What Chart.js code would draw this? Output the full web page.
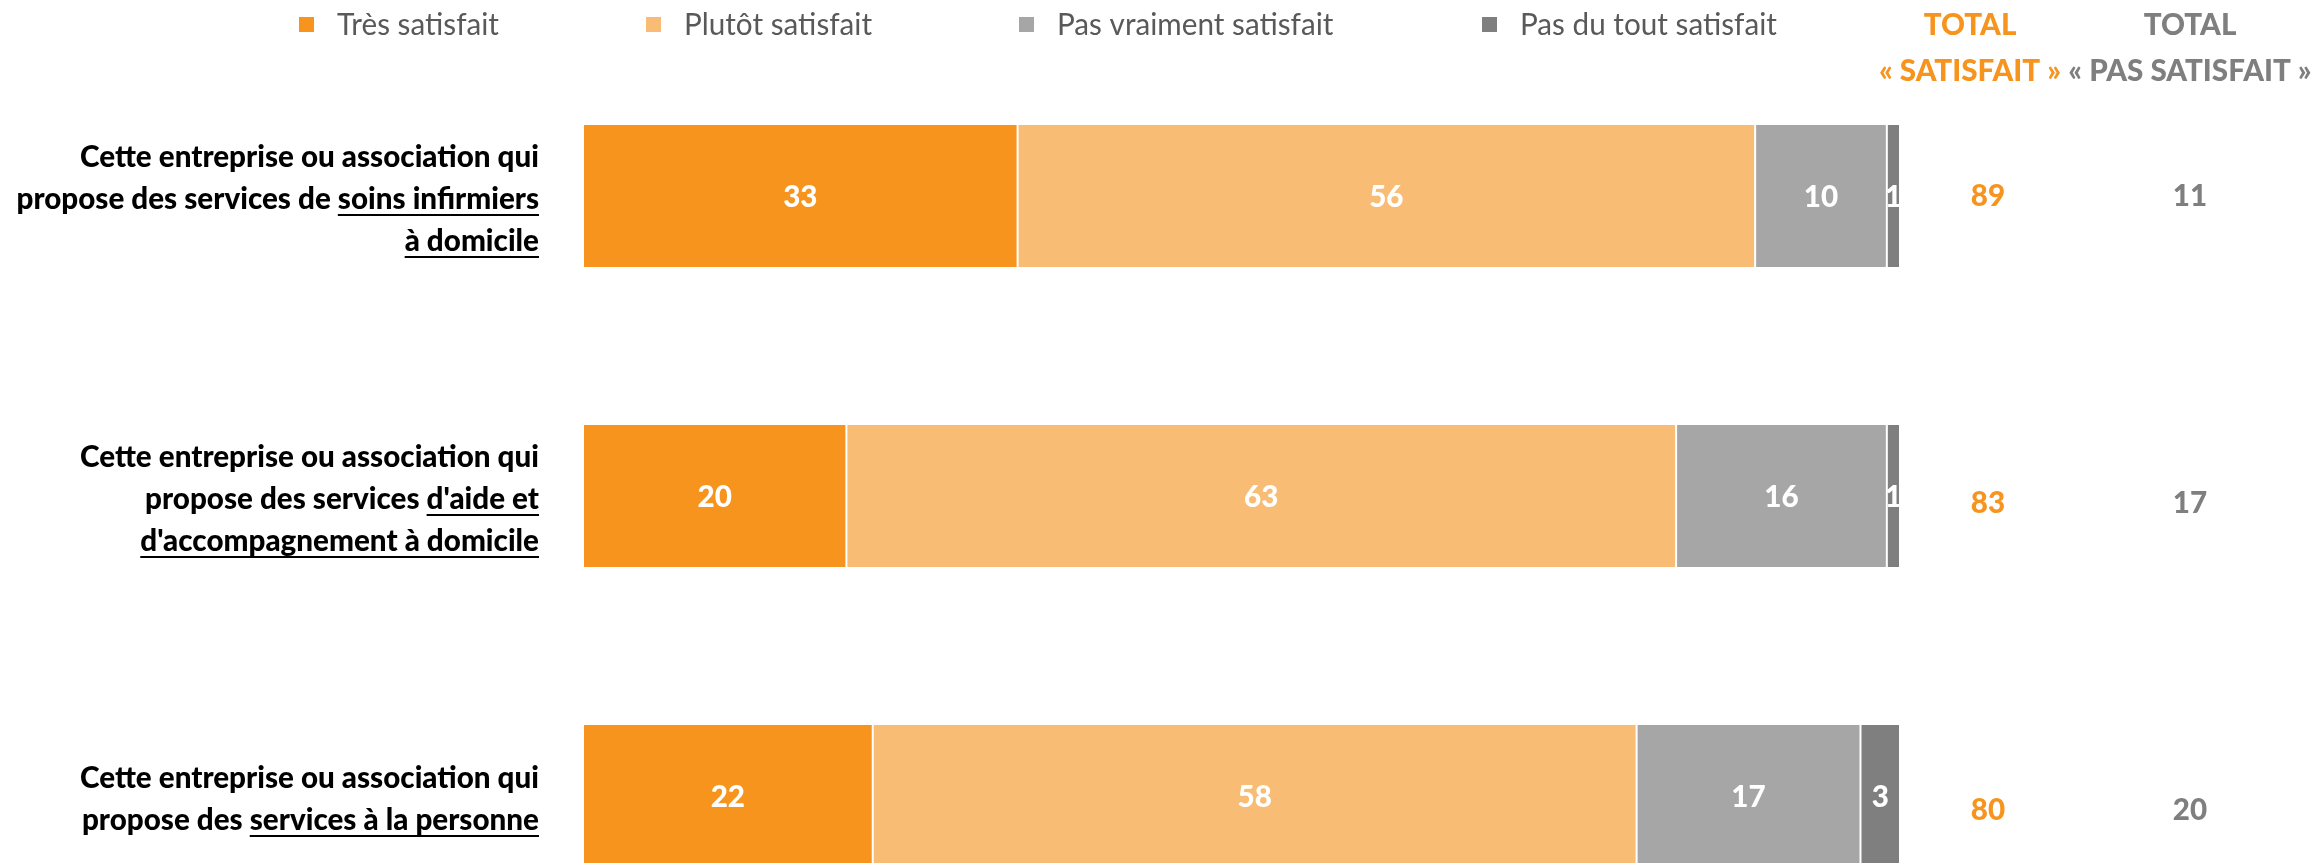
<!DOCTYPE html>
<html>
<head>
<meta charset="utf-8">
<script src="https://cdn.jsdelivr.net/npm/chart.js@4.4.0/dist/chart.umd.min.js"></script>
<style>
    html, body { margin: 0; padding: 0; background: #fff; overflow: hidden; }
    #wrap { width: 2315px; height: 960px; position: relative; }
</style>
</head>
<body>
<div id="wrap"><canvas id="satisfactionChart"></canvas></div>
<script>
// Categories: parts between underscores are underlined
const categories = [
    ['Cette entreprise ou association qui', 'propose des services de _soins infirmiers_', '_à domicile_'],
    ['Cette entreprise ou association qui', 'propose des services _d\'aide et_', '_d\'accompagnement à domicile_'],
    ['Cette entreprise ou association qui', 'propose des _services à la personne_']
];

const seriesLabels = ['Très satisfait', 'Plutôt satisfait', 'Pas vraiment satisfait', 'Pas du tout satisfait'];
const tresSatisfait = [33, 20, 22];
const plutotSatisfait = [56, 63, 58];
const pasVraiment = [10, 16, 17];
const pasDuTout = [1, 1, 3];

const totalSatisfait = [89, 83, 80];
const totalPasSatisfait = [11, 17, 20];
const totalHeaders = [['TOTAL', '« SATISFAIT »'], ['TOTAL', '« PAS SATISFAIT »']];

const colors = ['#F7941D', '#F9BC74', '#A6A6A6', '#7F7F7F'];
const orangeText = '#F7941D';
const grayText = '#7F7F7F';

const BOLD = '900 30px Lato';
const REGULAR = '30px Lato';

// draw text squeezed horizontally by sx (Calibri-like narrow look)
function drawText(ctx, text, x, y, font, color, align, sx) {
    ctx.save();
    ctx.font = font;
    ctx.fillStyle = color;
    ctx.textBaseline = 'middle';
    ctx.textAlign = 'left';
    const w = ctx.measureText(text).width * sx;
    let left = x;
    if (align === 'center') left = x - w / 2;
    if (align === 'right') left = x - w;
    ctx.translate(left, y);
    ctx.scale(sx, 1);
    ctx.fillText(text, 0, 0);
    ctx.restore();
    return w;
}

function squeeze(ctx, font, sample, target) {
    ctx.save();
    ctx.font = font;
    const w = ctx.measureText(sample).width;
    ctx.restore();
    return target / w;
}

const decorPlugin = {
    id: 'decor',
    afterDatasetsDraw(chart) {
        const ctx = chart.ctx;
        const x = chart.scales.x;
        const y = chart.scales.y;
        const sxB = squeeze(ctx, BOLD, 'Cette entreprise ou association qui', 459);
        const sxR = squeeze(ctx, REGULAR, 'Très satisfait', 162);

        // values inside the bars
        chart.data.datasets.forEach((ds, i) => {
            chart.getDatasetMeta(i).data.forEach((bar, j) => {
                const cx = (bar.x + bar.base) / 2;
                drawText(ctx, String(ds.data[j]), cx, bar.y + 1, BOLD, '#FFFFFF', 'center', sxB);
            });
        });

        // category labels on the left
        const labelRight = x.left - 44;
        const lineH = 42;
        categories.forEach((lines, j) => {
            const cy = y.getPixelForValue(j) + 3;
            lines.forEach((line, k) => {
                const ly = cy + (k - (lines.length - 1) / 2) * lineH;
                const parts = line.split('_');
                ctx.save();
                ctx.font = BOLD;
                let total = 0;
                parts.forEach(p => { total += ctx.measureText(p).width * sxB; });
                ctx.restore();
                let px = labelRight - total;
                parts.forEach((p, n) => {
                    if (!p) return;
                    const w = drawText(ctx, p, px, ly, BOLD, '#000000', 'left', sxB);
                    if (n % 2 === 1) {
                        ctx.fillStyle = '#000000';
                        ctx.fillRect(px, ly + 15, w, 2);
                    }
                    px += w;
                });
            });
        });

        // total columns
        const colSat = x.right + 88;
        const colPas = x.right + 290;
        totalSatisfait.forEach((v, j) => {
            const cy = y.getPixelForValue(j) + j * 7;
            drawText(ctx, String(v), colSat, cy, BOLD, orangeText, 'center', sxB);
            drawText(ctx, String(totalPasSatisfait[j]), colPas, cy, BOLD, grayText, 'center', sxB);
        });
        drawText(ctx, totalHeaders[0][0], x.right + 70, 25, BOLD, orangeText, 'center', sxB);
        drawText(ctx, totalHeaders[0][1], x.right + 70, 71, BOLD, orangeText, 'center', sxB);
        drawText(ctx, totalHeaders[1][0], colPas, 25, BOLD, grayText, 'center', sxB);
        drawText(ctx, totalHeaders[1][1], colPas, 71, BOLD, grayText, 'center', sxB);

        // legend
        const legendX = [337, 684, 1057, 1520];
        chart.data.datasets.forEach((ds, i) => {
            ctx.fillStyle = ds.backgroundColor;
            ctx.fillRect(legendX[i] - 38, 17, 15, 15);
            drawText(ctx, ds.label, legendX[i], 25, REGULAR, '#595959', 'left', sxR);
        });
    }
};

const seriesValues = [tresSatisfait, plutotSatisfait, pasVraiment, pasDuTout];

const ctx = document.getElementById('satisfactionChart').getContext('2d');
const satisfactionChart = new Chart(ctx, {
    type: 'bar',
    data: {
        labels: categories.map(c => c.join(' ').replace(/_/g, '')),
        datasets: seriesLabels.map((label, i) => ({
            label: label,
            data: seriesValues[i],
            backgroundColor: colors[i],
            borderColor: '#FFFFFF',
            borderWidth: { left: 1, right: 1, top: 0, bottom: 0 },
            borderSkipped: false
        }))
    },
    options: {
        indexAxis: 'y',
        responsive: true,
        maintainAspectRatio: false,
        animation: false,
        layout: { padding: { left: 583, right: 415, top: 46, bottom: 14 } },
        datasets: { bar: { categoryPercentage: 1, barPercentage: 0.4733 } },
        scales: {
            x: { stacked: true, min: 0, max: 100, display: false },
            y: { stacked: true, display: false }
        },
        plugins: {
            legend: { display: false },
            tooltip: { enabled: false }
        }
    },
    plugins: [decorPlugin]
});
</script>
</body>
</html>
